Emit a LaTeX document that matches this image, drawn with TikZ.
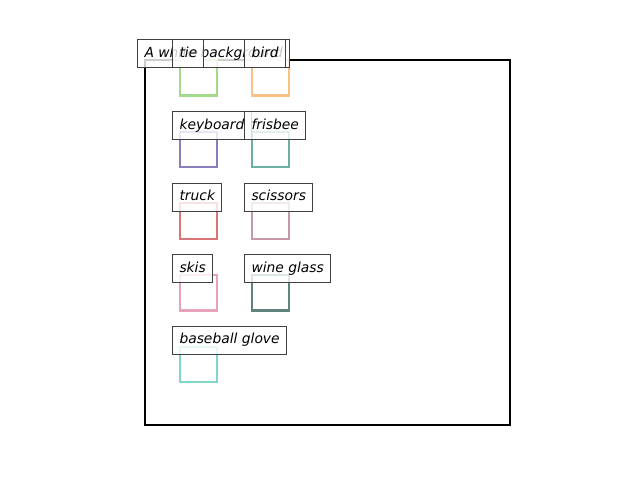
\documentclass[tikz,border=0pt]{standalone}
\usepackage{fontspec}
\setsansfont{DejaVu Sans}
\begin{document}
\begin{tikzpicture}[x=0.01in,y=-0.01in,
  frame/.style={draw=black,line width=1.5pt},
  obj/.style={draw=#1,line width=1.5pt,minimum width=26.2pt,minimum height=25.6pt,inner sep=0pt,anchor=north west},
  lab/.style={draw=black!75,line width=0.8pt,fill=white,fill opacity=0.8,text opacity=1,
    font=\sffamily\itshape\fontsize{10}{12}\selectfont,anchor=south west,
    inner xsep=4.8pt,inner ysep=0pt,minimum height=20.2pt,text height=7.6pt,text depth=2.4pt}]
\definecolor{cA}{HTML}{A5D98B}
\definecolor{cB}{HTML}{FDC086}
\definecolor{cC}{HTML}{877FBA}
\definecolor{cD}{HTML}{6BB0A0}
\definecolor{cE}{HTML}{DA7577}
\definecolor{cF}{HTML}{C49AA7}
\definecolor{cG}{HTML}{E8A1BB}
\definecolor{cH}{HTML}{5E847B}
\definecolor{cI}{HTML}{80D6C8}
\useasboundingbox (0,0) rectangle (640,480);
\node[frame,minimum width=263.5pt,minimum height=263.5pt,inner sep=0pt,anchor=north west] (img) at (144,59) {};
\node[obj=cA] (tie) at (179.3,59) {};
\node[obj=cB] (bird) at (251.3,59) {};
\node[obj=cC] (keyboard) at (179.3,130.7) {};
\node[obj=cD] (frisbee) at (251.3,130.7) {};
\node[obj=cE] (truck) at (179.3,202.3) {};
\node[obj=cF] (scissors) at (251.3,202.3) {};
\node[obj=cG] (skis) at (179.3,274) {};
\node[obj=cH] (wine) at (251.3,274) {};
\node[obj=cI] (glove) at (179.3,345.7) {};
\node[lab] (lbg) at (137.3,68.3) {A white background};
\node[lab] (ltie) at (172.3,68.3) {tie};
\node[lab] (lbird) at (244.3,68.3) {bird};
\node[lab] (lkeyboard) at (172.3,140.2) {keyboard};
\node[lab] (lfrisbee) at (244.3,140.2) {frisbee};
\node[lab] (ltruck) at (172.3,211.7) {truck};
\node[lab] (lscissors) at (244.3,211.7) {scissors};
\node[lab] (lskis) at (172.3,283.3) {skis};
\node[lab] (lwine) at (244.3,283.3) {wine glass};
\node[lab] (lglove) at (172.3,354.8) {baseball glove};
\end{tikzpicture}
\end{document}
